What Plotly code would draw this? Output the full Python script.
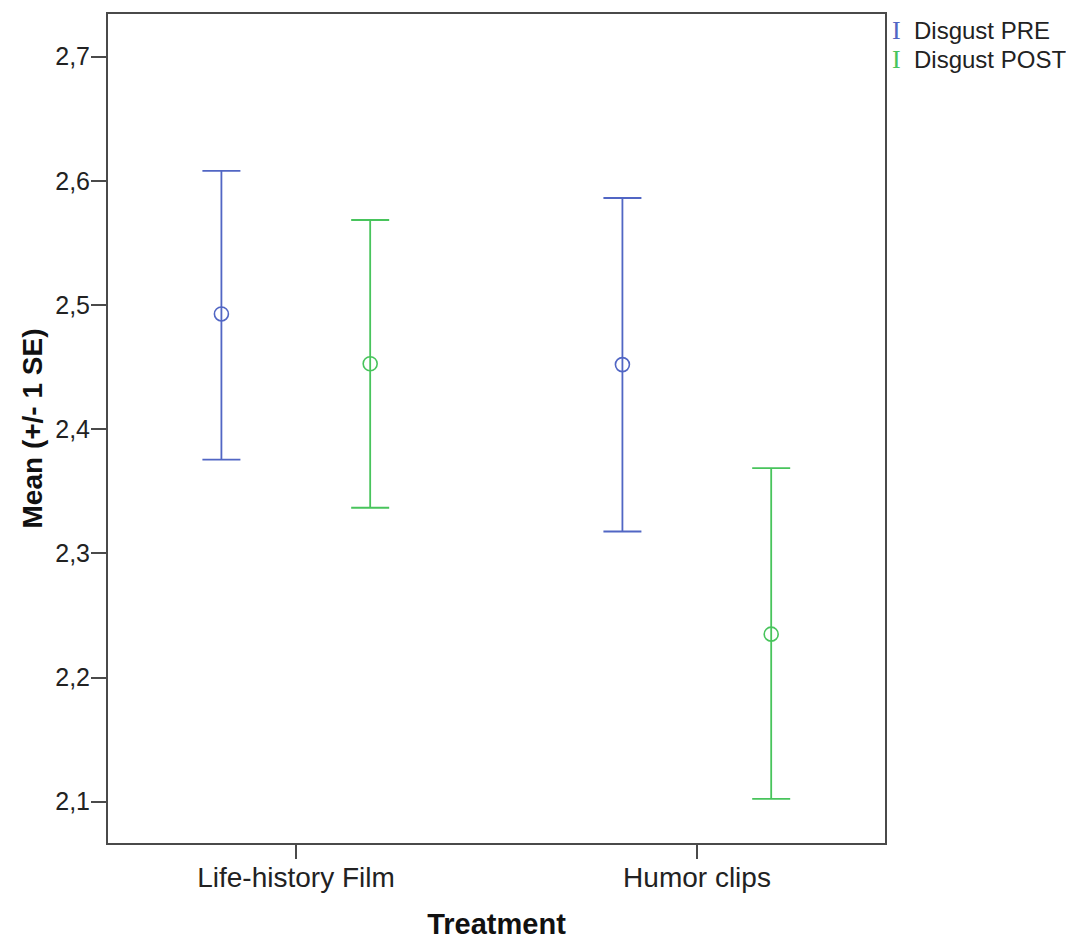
import plotly.graph_objects as go

categories = ["Life-history Film", "Humor clips"]
series_names = ["Disgust PRE", "Disgust POST"]
pre_mean = [2.4928, 2.4520]
pre_upper = [2.6080, 2.5862]
pre_lower = [2.3755, 2.3176]
post_mean = [2.4527, 2.2349]
post_upper = [2.5685, 2.3686]
post_lower = [2.3367, 2.1022]
y_ticks = [2.1, 2.2, 2.3, 2.4, 2.5, 2.6, 2.7]

colors = ["#5166c4", "#48c45c"]
offsets = [-0.186, 0.185]
axis_color = "#4a4a4a"
FONT = "Liberation Sans, Arial, sans-serif"

fig = go.Figure()
for name, mean, up, lo, col, off in [
    (series_names[0], pre_mean, pre_upper, pre_lower, colors[0], offsets[0]),
    (series_names[1], post_mean, post_upper, post_lower, colors[1], offsets[1]),
]:
    xs = [i + off for i in range(len(categories))]
    fig.add_trace(go.Scatter(
        x=xs, y=mean, mode="markers", name=name, showlegend=False,
        marker=dict(symbol="circle-open", size=14, color=col, line=dict(width=1.6, color=col)),
        error_y=dict(type="data", symmetric=False,
                     array=[u - m for u, m in zip(up, mean)],
                     arrayminus=[m - l for m, l in zip(mean, lo)],
                     color=col, thickness=1.8, width=19),
    ))

fig.update_layout(
    width=1066, height=940,
    margin=dict(l=108, r=181, t=14, b=97),
    paper_bgcolor="white", plot_bgcolor="white",
    separators=",.",
    font=dict(family=FONT, color="#222222"),
    xaxis=dict(
        range=[-0.4688, 1.4688], tickmode="array",
        tickvals=list(range(len(categories))), ticktext=categories,
        ticks="outside", ticklen=14, tickwidth=2, tickcolor=axis_color,
        ticklabelstandoff=-6,
        showline=True, linecolor=axis_color, linewidth=2, mirror=True,
        showgrid=False, zeroline=False, automargin=False,
        tickfont=dict(size=28, family=FONT, color="#222222"),
        title=dict(text="<b>Treatment</b>", font=dict(size=29, family=FONT, color="#111111"), standoff=26),
    ),
    yaxis=dict(
        range=[2.0667, 2.7344], tickmode="array", tickvals=y_ticks, tickformat=".1f",
        ticks="outside", ticklen=15, tickwidth=2, tickcolor=axis_color,
        ticklabelstandoff=-4,
        showline=True, linecolor=axis_color, linewidth=2, mirror=True,
        showgrid=False, zeroline=False, automargin=False,
        tickfont=dict(size=25, family=FONT, color="#222222"),
        title=dict(text="<b>Mean (+/- 1 SE)</b>", font=dict(size=28, family=FONT, color="#111111"), standoff=4),
    ),
)

for i, (name, col) in enumerate(zip(series_names, colors)):
    fig.add_annotation(
        xref="paper", yref="paper", x=1.0, y=1.0, xanchor="left", yanchor="top",
        xshift=5, yshift=0 - i * 29, showarrow=False, align="left",
        text=f"<span style='color:{col};font-family:Liberation Serif;font-size:26px'>I</span>\u00a0\u00a0{name}",
        font=dict(size=24, family=FONT, color="#222222"),
    )

fig.write_html("out.html", config={"displayModeBar": False},
               post_script="document.body.style.margin='0px';")
